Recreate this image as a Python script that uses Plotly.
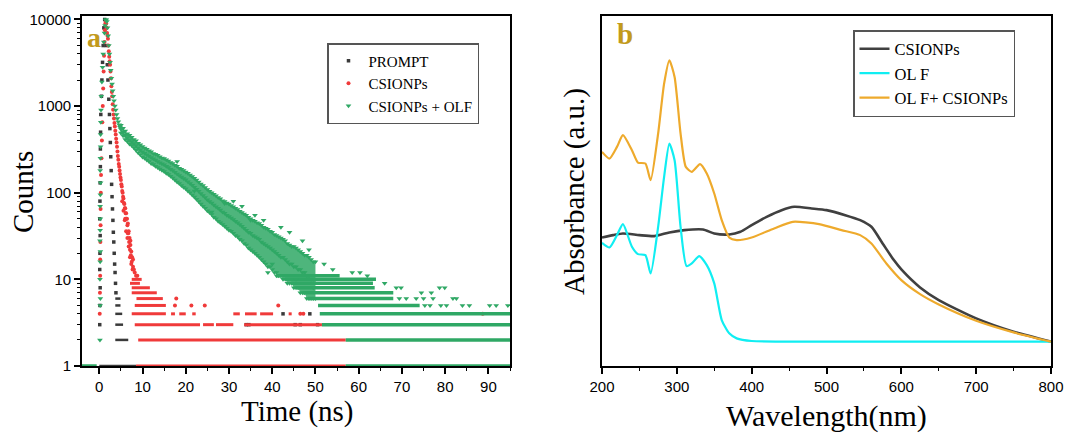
import plotly.graph_objects as go

# ---------------- Panel a : fluorescence decay (log counts) ----------------
prompt_t = [0.1, 0.15, 0.2, 0.1, 0.15, 0.2, 0.1, 0.15, 0.2, 0.25, 0.25, 0.3, 0.35,
            0.5, 0.6, 0.75, 0.9, 1.05, 1.25, 1.45, 1.65, 1.85, 2.0,
            2.2, 2.35, 2.45, 2.55, 2.65, 2.75, 2.85, 2.95, 3.05, 3.15, 3.25, 3.35,
            3.45, 3.55, 3.65, 3.75, 3.85]
prompt_counts = [3, 5, 8, 13, 20, 32, 50, 80, 130, 200, 320, 500, 800,
                 1300, 2000, 3200, 5000, 8000, 10000, 8000, 5000, 3000, 2000,
                 1200, 800, 550, 380, 260, 180, 125, 90, 65, 48, 35, 27,
                 20, 15, 12, 9, 7]
prompt_row_level = [6, 5, 4, 3, 2, 1]
prompt_row_start = [3.7, 3.7, 3.7, 3.7, 3.7, 0.0]
prompt_row_end = [4.9, 4.9, 5.3, 5.5, 6.7, 8.5]
prompt_extra_t = [34.0, 34.6, 45.3, 46.5, 50.5, 42.5, 48.7]
prompt_extra_counts = [3, 3, 3, 3, 3, 4, 4]

csionp_t = [0.1, 0.15, 0.2, 0.2, 0.25, 0.3, 0.3, 0.35, 0.4, 0.5,
            0.6, 0.7, 0.8, 0.9, 1.0, 1.1, 1.2, 1.3, 1.4, 1.5,
            1.6, 1.7, 1.8, 1.9, 2.0, 2.1, 2.2, 2.3, 2.4, 2.5,
            2.6, 2.7, 2.8, 2.9, 3.0, 3.1, 3.2, 3.3, 3.4, 3.5,
            3.6, 3.7, 3.8, 3.9, 4.0, 4.1, 4.2, 4.3, 4.4, 4.5,
            4.6, 4.7, 4.8, 4.9, 5.0, 5.1, 5.2, 5.3, 5.4, 5.5,
            5.6, 5.7, 5.8, 5.9, 6.0, 6.1, 6.2, 6.3, 6.4, 6.5,
            6.6, 6.7, 6.8, 6.9, 7.0, 7.1, 7.2, 7.3, 7.4, 7.5,
            7.6, 7.8, 8.0, 8.2, 8.5, 8.8]
csionp_counts = [4, 7, 11, 17, 27, 42, 65, 100, 160, 250,
                 400, 650, 1000, 1600, 2500, 3800, 5500, 7500, 9000, 9500,
                 9000, 8000, 7000, 6500, 6000, 5000, 4300, 3700, 3300, 3000,
                 2500, 2100, 1700, 1450, 1300, 1050, 910, 800, 720, 640,
                 580, 520, 470, 420, 380, 340, 300, 265, 240, 215,
                 200, 180, 165, 150, 140, 125, 118, 105, 100, 90,
                 86, 76, 74, 66, 66, 58, 58, 50, 50, 42,
                 44, 34, 36, 27, 30, 22, 25, 19, 21, 16,
                 18, 14, 13, 12, 11, 11]
csionp_scatter_t = [5.3, 5.6, 5.9, 6.2, 6.5, 6.8, 7.1, 7.4, 7.7, 6.0, 6.6, 7.2, 7.8]
csionp_scatter_counts = [80, 62, 48, 36, 30, 24, 18, 15, 13, 50, 34, 28, 17]
csionp_row_level = [10, 9, 8, 7, 6, 5, 4, 4, 4, 4, 4, 4, 4, 4, 3, 3, 3, 3, 2, 1]
csionp_row_start = [7.5, 7.1, 7.5, 7.5, 8.6, 8.2, 7.5, 16.6, 18.5, 21.5, 31.0, 33.7, 37.2, 43.8,
                    8.2, 24.0, 27.0, 33.5, 9.0, 8.5]
csionp_row_end = [9.8, 9.4, 11.7, 13.3, 14.7, 15.4, 15.4, 17.5, 20.0, 22.3, 32.5, 36.4, 40.2, 44.5,
                  23.3, 26.5, 31.0, 51.5, 57.0, 57.0]
csionp_extra_t = [17.8, 17.5, 21.3, 24.4, 41.4, 46.5, 47.2, 88.7]
csionp_extra_counts = [6, 5, 5, 5, 5, 4, 4, 4]

olf_t = [0.15, 0.2, 0.25, 0.15, 0.2, 0.25, 0.15, 0.2, 0.25, 0.2, 0.25, 0.3, 0.2, 0.25, 0.3, 0.3, 0.35, 0.4,
         0.45, 0.6, 0.75, 0.9, 1.05, 1.2, 1.35, 1.5, 1.6, 1.75, 1.9, 2.05, 2.2, 2.35,
         2.5, 2.65, 2.8, 2.95, 3.1, 3.25, 3.4, 3.6, 3.8, 4.0, 4.2, 4.4, 4.6, 4.8]
olf_counts = [2, 5, 6, 10, 16, 21, 28, 37, 50, 70, 95, 130, 180, 250, 340, 470, 650, 900,
              1300, 1900, 2800, 4000, 5500, 7000, 8500, 9800, 10000, 9500, 8000, 6500, 5000, 4000,
              3200, 2600, 2100, 1800, 1500, 1300, 1150, 1000, 900, 800, 720, 660, 610, 570]
olf_band_t = [5.0, 5.5, 6.0, 6.5, 7.0, 7.5, 8.0, 8.5, 9.0, 9.5,
              10.0, 10.5, 11.0, 11.5, 12.0, 12.5, 13.0, 13.5, 14.0, 14.5,
              15.0, 15.5, 16.0, 16.5, 17.0, 17.5, 18.0, 18.5, 19.0, 19.5,
              20.0, 20.5, 21.0, 21.5, 22.0, 22.5, 23.0, 23.5, 24.0, 24.5,
              25.0, 25.5, 26.0, 26.5, 27.0, 27.5, 28.0, 28.5, 29.0, 29.5,
              30.0, 30.5, 31.0, 31.5, 32.0, 32.5, 33.0, 33.5, 34.0, 34.5,
              35.0, 35.5, 36.0, 36.5, 37.0, 37.5, 38.0, 38.5, 39.0, 39.5,
              40.0, 40.5, 41.0, 41.5, 42.0, 42.5, 43.0, 43.5, 44.0, 44.5,
              45.0, 45.5, 46.0, 46.5, 47.0, 47.5, 48.0, 48.5, 49.0, 49.5, 50.0]
olf_band_mid = [540, 500, 460, 435, 410, 390, 370, 350, 330, 313,
                297, 286, 275, 265, 255, 246, 238, 230, 222, 216,
                210, 202, 195, 187, 180, 172, 165, 158, 152, 146,
                141, 134, 128, 122, 116, 110, 104, 98, 93, 88,
                83, 79, 76, 72, 69, 66, 63, 60, 58, 55,
                53, 51, 49, 47, 45, 43, 41, 39, 37, 35,
                34, 32, 31, 30, 29, 27, 26, 25, 24, 23,
                22, 21, 20, 19, 18, 18, 17, 16, 15, 15,
                14, 14, 13, 13, 12, 12, 11, 11, 10, 10, 10]
olf_band_hi = [600, 555, 515, 480, 462, 438, 412, 398, 372, 358,
               342, 328, 318, 305, 298, 284, 278, 270, 260, 252,
               248, 240, 232, 224, 218, 208, 202, 192, 187, 180,
               174, 168, 160, 154, 147, 140, 133, 126, 121, 115,
               109, 104, 100, 96, 92, 88, 85, 81, 79, 76,
               74, 71, 69, 66, 64, 61, 59, 57, 55, 52,
               50, 48, 47, 45, 44, 42, 40, 39, 38, 36,
               35, 33, 32, 31, 30, 29, 28, 26, 25, 24,
               24, 23, 22, 21, 20, 19, 19, 18, 17, 16, 16]
olf_band_lo = [490, 455, 412, 390, 365, 350, 330, 310, 290, 275,
               258, 250, 238, 230, 218, 212, 202, 195, 188, 182,
               176, 168, 162, 155, 148, 140, 133, 128, 121, 116,
               111, 105, 100, 94, 89, 84, 79, 74, 70, 66,
               62, 59, 56, 52, 50, 47, 45, 43, 41, 39,
               37, 36, 34, 32, 31, 29, 28, 26, 25, 23,
               22, 21, 20, 19, 18, 17, 16, 15, 14, 14,
               13, 12, 12, 11, 11, 10, 10, 9, 9, 9,
               8, 8, 8, 7, 7, 7, 6, 6, 6, 6, 6]
olf_row_level = [11, 10, 9, 8, 7, 6, 5, 4, 3, 2, 1, 1]
olf_row_start = [41.0, 43.0, 44.4, 45.6, 47.1, 48.3, 50.6, 51.0, 51.5, 57.0, 57.0, -4.0]
olf_row_end = [55.6, 64.0, 63.3, 63.7, 68.0, 68.0, 74.1, 96.0, 96.0, 96.0, 96.0, -0.6]
olf_extra_t = [60.3, 66.0, 69.8, 79.9, 68.7, 78.7, 74.5, 76.8, 69.4, 71.0, 73.3, 75.0, 77.2,
               81.8, 82.6, 75.3, 76.5, 79.0, 80.3, 84.0, 85.6, 90.3, 91.8, 94.5,
               26.0, 31.0, 33.0, 36.0, 38.0, 42.0, 44.0, 47.0, 48.5, 39.0, 41.0,
               18.0, 22.0, 29.0, 35.0, 40.0, 45.5, 49.5, 52.0, 54.0, 58.5, 62.0]
olf_extra_counts = [12, 9, 8, 8, 8, 8, 7, 7, 6, 6, 6, 6, 6,
                    6, 6, 5, 5, 5, 5, 5, 5, 5, 5, 5,
                    60, 80, 70, 55, 48, 40, 35, 28, 22, 12, 11,
                    230, 105, 75, 48, 15, 10, 8, 15, 13, 12, 11]

decay_ticks = [1, 10, 100, 1000, 10000]
decay_tick_labels = ["1", "10", "100", "1000", "10000"]

# ---------------- Panel b : UV-Vis absorbance ----------------
wl_csionps = [200, 215, 228, 250, 270, 290, 310, 335, 350, 370, 385, 400, 420, 440, 457,
              480, 500, 525, 545, 560, 575, 590, 600, 625, 650, 700, 750, 800]
abs_csionps = [0.386, 0.393, 0.398, 0.393, 0.390, 0.401, 0.408, 0.410, 0.398, 0.395, 0.403,
               0.423, 0.448, 0.468, 0.478, 0.473, 0.468, 0.453, 0.438, 0.418, 0.368, 0.318,
               0.290, 0.236, 0.198, 0.143, 0.103, 0.073]
wl_olf = [200, 210, 220, 228, 240, 248, 258, 265, 275, 283, 290, 297, 305, 313, 320, 330,
          340, 350, 360, 370, 380, 400, 500, 600, 700, 800]
abs_olf = [0.370, 0.356, 0.393, 0.426, 0.358, 0.336, 0.333, 0.278, 0.418, 0.568, 0.668, 0.618,
           0.418, 0.300, 0.308, 0.330, 0.303, 0.248, 0.138, 0.098, 0.083, 0.075, 0.073, 0.073,
           0.073, 0.073]
wl_mix = [200, 210, 220, 228, 240, 248, 258, 265, 275, 283, 290, 297, 305, 312, 320, 331, 340,
          350, 360, 370, 380, 400, 430, 455, 490, 520, 545, 560, 580, 600, 625, 650, 700, 750, 800]
abs_mix = [0.643, 0.623, 0.658, 0.693, 0.648, 0.611, 0.608, 0.558, 0.698, 0.848, 0.918, 0.868,
           0.698, 0.598, 0.583, 0.606, 0.578, 0.518, 0.438, 0.386, 0.378, 0.386, 0.413, 0.433,
           0.426, 0.408, 0.393, 0.368, 0.308, 0.258, 0.216, 0.185, 0.136, 0.101, 0.073]

C_PROMPT = "#3a3a3a"
C_RED = "#f03a3a"
C_GREEN = "#2fa865"
SERIF = "Liberation Serif"
SANS = "Liberation Sans"

W, H = 1067, 433


def px(xp):
    return xp / W


def py(yp):
    return 1 - yp / H


def rows(levels, starts, ends):
    xs, ys = [], []
    for lv, s, e in zip(levels, starts, ends):
        xs += [s, e, None]
        ys += [lv, lv, None]
    return xs, ys


fig = go.Figure()
ax = dict(xaxis="x", yaxis="y")

# PROMPT
fig.add_trace(go.Scatter(x=prompt_t, y=prompt_counts, mode="markers", name="PROMPT",
                         marker=dict(symbol="square", size=3.5, color=C_PROMPT), legend="legend", **ax))
xs, ys = rows(prompt_row_level, prompt_row_start, prompt_row_end)
fig.add_trace(go.Scatter(x=xs, y=ys, mode="lines", line=dict(color=C_PROMPT, width=2.5),
                         showlegend=False, **ax))
fig.add_trace(go.Scatter(x=prompt_extra_t, y=prompt_extra_counts, mode="markers", showlegend=False,
                         marker=dict(symbol="square", size=3.5, color=C_PROMPT), **ax))

# CSIONPs
fig.add_trace(go.Scatter(x=csionp_t, y=csionp_counts, mode="markers", name="CSIONPs",
                         marker=dict(symbol="circle", size=4, color=C_RED), legend="legend", **ax))
fig.add_trace(go.Scatter(x=csionp_scatter_t, y=csionp_scatter_counts, mode="markers", showlegend=False,
                         marker=dict(symbol="circle", size=4, color=C_RED), **ax))
xs, ys = rows(csionp_row_level, csionp_row_start, csionp_row_end)
fig.add_trace(go.Scatter(x=xs, y=ys, mode="lines", line=dict(color=C_RED, width=3),
                         showlegend=False, **ax))
fig.add_trace(go.Scatter(x=csionp_extra_t, y=csionp_extra_counts, mode="markers", showlegend=False,
                         marker=dict(symbol="circle", size=4, color=C_RED), **ax))

# CSIONPs + OLF
fig.add_trace(go.Scatter(x=olf_t, y=olf_counts, mode="markers", name="CSIONPs + OLF",
                         marker=dict(symbol="triangle-down", size=5, color=C_GREEN), legend="legend", **ax))
fig.add_trace(go.Scatter(x=olf_band_t, y=olf_band_lo, mode="lines", line=dict(width=0, color=C_GREEN),
                         showlegend=False, hoverinfo="skip", **ax))
fig.add_trace(go.Scatter(x=olf_band_t, y=olf_band_hi, mode="lines", line=dict(width=0, color=C_GREEN),
                         fill="tonexty", fillcolor="rgba(47,168,101,0.85)", showlegend=False,
                         hoverinfo="skip", **ax))
for band in (olf_band_hi, olf_band_mid, olf_band_lo):
    fig.add_trace(go.Scatter(x=olf_band_t, y=band, mode="markers", showlegend=False,
                             marker=dict(symbol="triangle-down", size=5, color=C_GREEN), **ax))
xs, ys = rows(olf_row_level, olf_row_start, olf_row_end)
fig.add_trace(go.Scatter(x=xs, y=ys, mode="lines", line=dict(color=C_GREEN, width=3.5),
                         showlegend=False, **ax))
fig.add_trace(go.Scatter(x=olf_extra_t, y=olf_extra_counts, mode="markers", showlegend=False,
                         marker=dict(symbol="triangle-down", size=5, color=C_GREEN), **ax))

# Panel b lines
bx = dict(xaxis="x2", yaxis="y2", legend="legend2")
fig.add_trace(go.Scatter(x=wl_csionps, y=abs_csionps, mode="lines", name="CSIONPs",
                         line=dict(color="#404040", width=2.6, shape="spline", smoothing=0.6), **bx))
fig.add_trace(go.Scatter(x=wl_olf, y=abs_olf, mode="lines", name="OL F",
                         line=dict(color="#10eef2", width=2.2, shape="spline", smoothing=0.6), **bx))
fig.add_trace(go.Scatter(x=wl_mix, y=abs_mix, mode="lines", name="OL F+ CSIONPs",
                         line=dict(color="#eeaa2c", width=2.2, shape="spline", smoothing=0.6), **bx))

yd = [py(366), py(16)]
axis_common = dict(showline=True, linecolor="black", linewidth=1.6, mirror=True, showgrid=False,
                   zeroline=False, ticks="outside", tickcolor="black", tickwidth=1.5, ticklen=6,
                   automargin=False, ticklabeloverflow="allow",
                   tickfont=dict(family=SANS, size=15, color="black"))

fig.update_layout(
    width=W, height=H, margin=dict(l=0, r=0, t=0, b=0, autoexpand=False),
    paper_bgcolor="white", plot_bgcolor="white",
    xaxis=dict(domain=[px(82), px(510)], range=[-4, 95], dtick=10, tick0=0,
               minor=dict(dtick=5, ticks="outside", ticklen=3, tickcolor="black", tickwidth=1.2),
               anchor="y", **axis_common),
    yaxis=dict(domain=yd, type="log", range=[0, 4.04], tickvals=decay_ticks, ticktext=decay_tick_labels,
               minor=dict(ticks="outside", ticklen=3, tickcolor="black", tickwidth=1.2, dtick="D1"),
               anchor="x", **axis_common),
    xaxis2=dict(domain=[px(602), px(1051)], range=[200, 800], dtick=100,
                minor=dict(dtick=50, ticks="outside", ticklen=3, tickcolor="black", tickwidth=1.2),
                anchor="y2", **axis_common),
    yaxis2=dict(domain=yd, range=[0, 1.051], anchor="x2", showticklabels=False, automargin=False,
                showline=True, linecolor="black", linewidth=1.6, mirror=True, showgrid=False,
                zeroline=False, ticks=""),
    legend=dict(x=px(327), y=py(43), xanchor="left", yanchor="top", traceorder="normal",
                bordercolor="#555555", borderwidth=1.5, bgcolor="white",
                font=dict(family=SERIF, size=15, color="black"), itemsizing="trace", tracegroupgap=0),
    legend2=dict(x=px(853), y=py(30), xanchor="left", yanchor="top", traceorder="normal",
                 bordercolor="#555555", borderwidth=1.5, bgcolor="white",
                 font=dict(family=SERIF, size=16.5, color="black"), tracegroupgap=0),
    showlegend=True,
)

ann = [
    dict(text="Counts", x=px(23), y=py(192), textangle=-90, font=dict(family=SERIF, size=29)),
    dict(text="Time (ns)", x=px(297), y=py(411), font=dict(family=SERIF, size=29)),
    dict(text="Absorbance (a.u.)", x=px(575), y=py(192), textangle=-90, font=dict(family=SERIF, size=29)),
    dict(text="Wavelength(nm)", x=px(826), y=py(416), font=dict(family=SERIF, size=30)),
    dict(text="<b>a</b>", x=px(94), y=py(37), font=dict(family=SERIF, size=28, color="#c29a1c")),
    dict(text="<b>b</b>", x=px(625), y=py(34), font=dict(family=SERIF, size=29, color="#c29a1c")),
]
for a in ann:
    a.update(xref="paper", yref="paper", showarrow=False, xanchor="center", yanchor="middle")
    a["font"].setdefault("color", "black")
fig.update_layout(annotations=ann)

# remove the default page margin so the 1067x433 figure fills the window exactly
page_fix = ("document.documentElement.style.margin='0';document.body.style.margin='0';"
            "document.documentElement.style.overflow='hidden';document.body.style.overflow='hidden';")
fig.write_html("out.html", post_script=page_fix, config={"displayModeBar": False})
